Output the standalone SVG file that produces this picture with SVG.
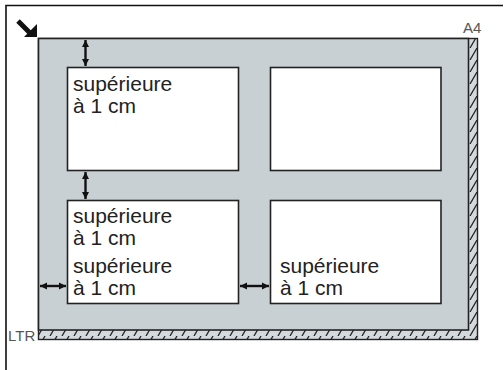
<svg xmlns="http://www.w3.org/2000/svg" width="504" height="370" viewBox="0 0 504 370">
<style>
.box{fill:#fff;stroke:#222;stroke-width:1.6}
.lbl{font-family:"Liberation Sans",Arial,sans-serif;font-size:21px;fill:#222}
.tag{font-family:"Liberation Sans",Arial,sans-serif;font-size:15px;fill:#555}
.dim{stroke:#111;stroke-width:2.4;fill:none;marker-start:url(#ah);marker-end:url(#ah)}
</style>
<defs>
<marker id="ah" viewBox="0 0 10 10" refX="10" refY="5" markerWidth="3" markerHeight="3" orient="auto-start-reverse" markerUnits="strokeWidth">
<path d="M0,0 L10,5 L0,10 Z" fill="#111"/>
</marker>
<pattern id="hatch" patternUnits="userSpaceOnUse" width="12" height="12">
<rect width="12" height="12" fill="#d3d9dc"/>
<path d="M2,12 L9,0" stroke="#222" stroke-width="1.3"/>
</pattern>
</defs>
<g id="frame">
<path d="M6,370 V5.5 H503" fill="none" stroke="#111" stroke-width="1.6"/>
</g>
<g id="corner-mark">
<path d="M18,21 L31,34" stroke="#111" stroke-width="5"/>
<path d="M37,37 L37,24 L24,37 Z" fill="#111"/>
</g>
<g id="platen">
<rect x="38.5" y="38.5" width="439" height="301" fill="url(#hatch)" stroke="#222" stroke-width="1.4"/>
<rect x="38.5" y="38.5" width="430" height="291.5" fill="#c9d0d4" stroke="#222" stroke-width="1.6"/>
</g>
<text class="tag" x="463" y="33">A4</text>
<text class="tag" x="8" y="341">LTR</text>
<g id="box-top-left">
<rect class="box" x="67.5" y="67.5" width="171" height="103"/>
<text class="lbl" x="73" y="91">supérieure</text>
<text class="lbl" x="73" y="113">à 1 cm</text>
</g>
<g id="box-top-right">
<rect class="box" x="270.5" y="67.5" width="170.5" height="103"/>
</g>
<g id="box-bottom-left">
<rect class="box" x="67.5" y="200.5" width="171" height="103"/>
<text class="lbl" x="73" y="223">supérieure</text>
<text class="lbl" x="73" y="245">à 1 cm</text>
<text class="lbl" x="73" y="273">supérieure</text>
<text class="lbl" x="73" y="295">à 1 cm</text>
</g>
<g id="box-bottom-right">
<rect class="box" x="270.5" y="200.5" width="170.5" height="103"/>
<text class="lbl" x="280" y="273">supérieure</text>
<text class="lbl" x="280" y="295">à 1 cm</text>
</g>
<g id="connectors">
<line class="dim" x1="85.5" y1="40" x2="85.5" y2="66"/>
<line class="dim" x1="85.5" y1="172" x2="85.5" y2="199"/>
<line class="dim" x1="40" y1="286" x2="66" y2="286"/>
<line class="dim" x1="240" y1="286" x2="269" y2="286"/>
</g>
</svg>
